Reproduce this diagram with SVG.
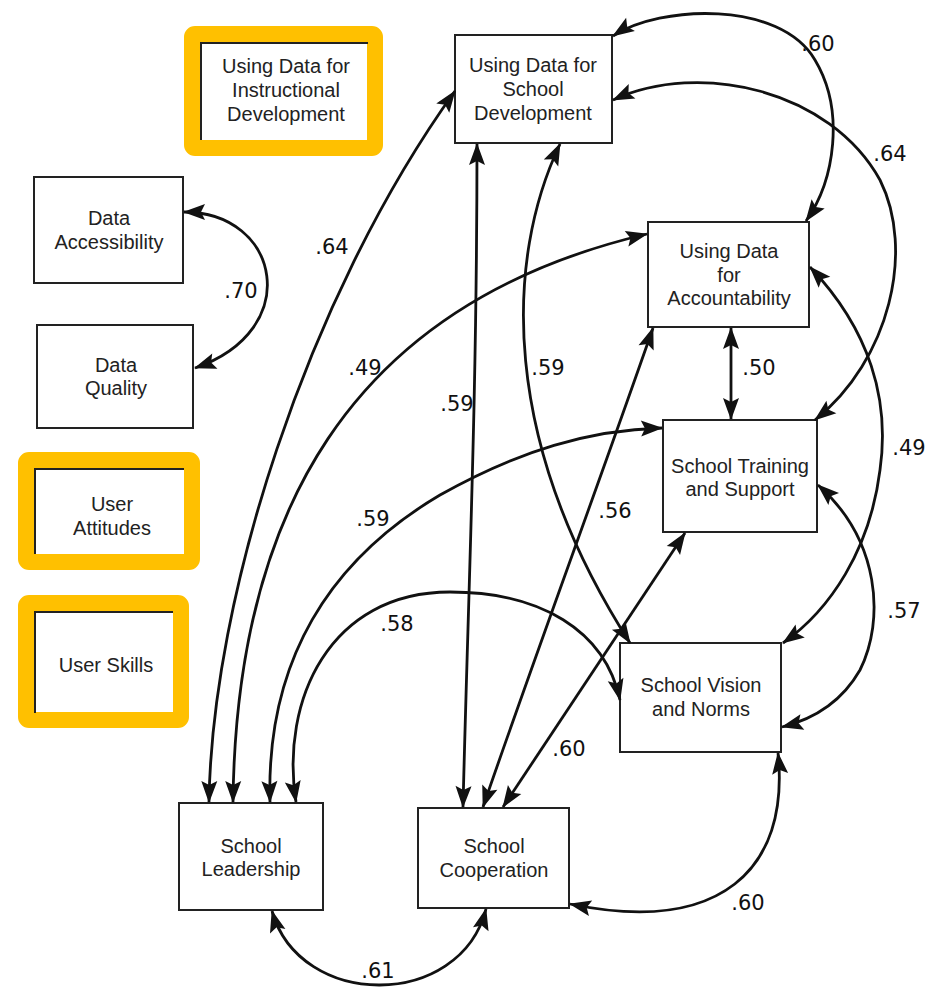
<svg xmlns="http://www.w3.org/2000/svg" width="934" height="990" viewBox="0 0 934 990">
<style>
.box{fill:#fff;stroke:#222;stroke-width:2}
.hl{fill:none;stroke:#FFC000;stroke-width:16}
.edge{fill:none;stroke:#222;stroke-width:2}
.t{font-family:"Liberation Sans",Arial,sans-serif;font-size:20px;fill:#222;text-anchor:middle}
.c{fill:none;stroke:#111;stroke-width:2.8}
.n{font-family:"DejaVu Sans",Verdana,sans-serif;font-size:21px;fill:#111;text-anchor:middle}
</style>
<defs>
<marker id="ah" markerUnits="userSpaceOnUse" markerWidth="24" markerHeight="18" refX="21" refY="8" orient="auto-start-reverse" overflow="visible">
<path d="M0,0 L22,8 L0,16 L4,8 z" fill="#111"/>
</marker>
</defs>
<rect width="934" height="990" fill="#fff"/>

<g id="udid">
<rect class="box" x="200" y="42" width="168" height="98" style="stroke:none"/>
<rect class="hl" x="192" y="34" width="183" height="114" rx="3"/>
<path class="edge" d="M201,140 V43 H368"/>
<text class="t" x="286" y="73">Using Data for</text>
<text class="t" x="286" y="97">Instructional</text>
<text class="t" x="286" y="121">Development</text>
</g>

<g id="udsd">
<rect class="box" x="455" y="35" width="157" height="108"/>
<text class="t" x="533" y="72">Using Data for</text>
<text class="t" x="533" y="96">School</text>
<text class="t" x="533" y="120">Development</text>
</g>

<g id="da">
<rect class="box" x="34" y="177" width="149" height="106"/>
<text class="t" x="109" y="225">Data</text>
<text class="t" x="109" y="249">Accessibility</text>
</g>

<g id="dq">
<rect class="box" x="37" y="325" width="156" height="103"/>
<text class="t" x="116" y="372">Data</text>
<text class="t" x="116" y="395">Quality</text>
</g>

<g id="ua">
<rect class="box" x="35" y="469" width="149" height="85" style="stroke:none"/>
<rect class="hl" x="26" y="460" width="166" height="102" rx="3"/>
<path class="edge" d="M35,554 V469 H184"/>
<text class="t" x="112" y="511">User</text>
<text class="t" x="112" y="535">Attitudes</text>
</g>

<g id="us">
<rect class="box" x="35" y="612" width="138" height="101" style="stroke:none"/>
<rect class="hl" x="26" y="603" width="155" height="117" rx="3"/>
<path class="edge" d="M35,713 V612 H173"/>
<text class="t" x="106" y="672">User Skills</text>
</g>

<g id="uda">
<rect class="box" x="648" y="222" width="161" height="105"/>
<text class="t" x="729" y="258">Using Data</text>
<text class="t" x="729" y="282">for</text>
<text class="t" x="729" y="305">Accountability</text>
</g>

<g id="sts">
<rect class="box" x="663" y="420" width="154" height="112"/>
<text class="t" x="740" y="473">School Training</text>
<text class="t" x="740" y="496">and Support</text>
</g>

<g id="svn">
<rect class="box" x="620" y="643" width="161" height="109"/>
<text class="t" x="701" y="692">School Vision</text>
<text class="t" x="701" y="716">and Norms</text>
</g>

<g id="sl">
<rect class="box" x="179" y="803" width="144" height="107"/>
<text class="t" x="251" y="853">School</text>
<text class="t" x="251" y="876">Leadership</text>
</g>

<g id="sc">
<rect class="box" x="418" y="808" width="151" height="100"/>
<text class="t" x="494" y="853">School</text>
<text class="t" x="494" y="877">Cooperation</text>
</g>

<g id="connectors" marker-start="url(#ah)" marker-end="url(#ah)">
<path class="c" marker-start="url(#ah)" marker-end="url(#ah)" d="M184,212 C280,212 305,330 195,368"/>
<path class="c" marker-start="url(#ah)" marker-end="url(#ah)" d="M209,802 C212,600 305,300 455,91"/>
<path class="c" marker-start="url(#ah)" marker-end="url(#ah)" d="M233,802 C236,520 345,305 647,234"/>
<path class="c" marker-start="url(#ah)" marker-end="url(#ah)" d="M270,802 C266,660 330,560 440,495 C520,450 590,430 662,428"/>
<path class="c" marker-start="url(#ah)" marker-end="url(#ah)" d="M296,802 C280,700 330,592 450,592 C540,592 605,630 620,700"/>
<path class="c" marker-start="url(#ah)" marker-end="url(#ah)" d="M463,807 C468,600 477,400 477,144"/>
<path class="c" marker-start="url(#ah)" marker-end="url(#ah)" d="M483,807 C530,670 600,480 653,328"/>
<path class="c" marker-start="url(#ah)" marker-end="url(#ah)" d="M503,807 L685,533"/>
<path class="c" marker-start="url(#ah)" marker-end="url(#ah)" d="M560,144 C505,260 500,440 630,643"/>
<path class="c" marker-start="url(#ah)" marker-end="url(#ah)" d="M613,36 C660,5 780,0 815,60 C845,110 835,180 806,221"/>
<path class="c" marker-start="url(#ah)" marker-end="url(#ah)" d="M613,100 C700,60 830,90 880,180 C915,250 890,360 815,420"/>
<path class="c" marker-start="url(#ah)" marker-end="url(#ah)" d="M731,328 L731,419"/>
<path class="c" marker-start="url(#ah)" marker-end="url(#ah)" d="M810,267 C870,330 890,400 880,470 C870,550 830,610 783,643"/>
<path class="c" marker-start="url(#ah)" marker-end="url(#ah)" d="M818,485 C880,540 885,620 860,670 C840,705 810,720 782,727"/>
<path class="c" marker-start="url(#ah)" marker-end="url(#ah)" d="M778,753 C790,870 720,935 570,904"/>
<path class="c" marker-start="url(#ah)" marker-end="url(#ah)" d="M272,911 C300,1010 460,1010 486,909"/>
</g>

<g id="labels">
<text class="n" x="241" y="298">.70</text>
<text class="n" x="332" y="254">.64</text>
<text class="n" x="365" y="375">.49</text>
<text class="n" x="457" y="411">.59</text>
<text class="n" x="548" y="375">.59</text>
<text class="n" x="373" y="526">.59</text>
<text class="n" x="615" y="518">.56</text>
<text class="n" x="397" y="631">.58</text>
<text class="n" x="569" y="756">.60</text>
<text class="n" x="818" y="51">.60</text>
<text class="n" x="890" y="161">.64</text>
<text class="n" x="759" y="375">.50</text>
<text class="n" x="909" y="455">.49</text>
<text class="n" x="904" y="618">.57</text>
<text class="n" x="748" y="910">.60</text>
<text class="n" x="378" y="978">.61</text>
</g>
</svg>
